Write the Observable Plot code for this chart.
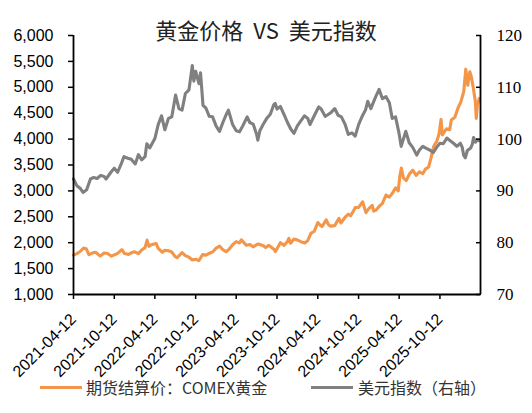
<!DOCTYPE html>
<html><head><meta charset="utf-8">
<script src="https://cdn.jsdelivr.net/npm/d3@7"></script>
<script src="https://cdn.jsdelivr.net/npm/@observablehq/plot@0.6"></script>
<style>
body{margin:0;background:#fff;}
#wrap{position:relative;width:532px;height:413px;overflow:hidden;}
#chart{position:absolute;left:0;top:0;}
#title{position:absolute;left:0;width:532px;top:15px;text-align:center;font-family:"Noto Sans CJK SC";font-size:22px;line-height:28px;color:#222;white-space:pre;word-spacing:5px;}
.lg{position:absolute;top:377px;font-family:"Noto Sans CJK SC";font-size:16px;line-height:20px;color:#333;white-space:nowrap;}
.sw{position:absolute;top:386px;height:3px;width:42px;}
</style></head><body>
<div id="wrap">
<div id="chart"></div>
<div id="title"></div>
<div class="sw" id="sw1" style="left:40px;"></div><div class="lg" id="lg1" style="left:86px;"></div>
<div class="sw" id="sw2" style="left:311px;"></div><div class="lg" id="lg2" style="left:358px;"></div>
</div>
<script>
const titleText = "黄金价格 VS 美元指数";
const seriesNames = ["期货结算价：COMEX黄金", "美元指数（右轴）"];
const seriesColors = ["#F4964A", "#808080"];

const xTickLabels = ["2021-04-12","2021-10-12","2022-04-12","2022-10-12","2023-04-12","2023-10-12","2024-04-12","2024-10-12","2025-04-12","2025-10-12"];
const xDomain = ["2021-04-12","2026-04-12"];
const leftTicks = [1000,1500,2000,2500,3000,3500,4000,4500,5000,5500,6000];
const rightTicks = [70,80,90,100,110,120];

const goldDates = ["2021-04-12","2021-04-27","2021-05-12","2021-05-27","2021-06-08","2021-06-20","2021-07-05","2021-07-20","2021-08-10","2021-08-27","2021-09-12","2021-09-29","2021-10-12","2021-10-27","2021-11-15","2021-11-27","2021-12-15","2021-12-30","2022-01-12","2022-01-28","2022-02-12","2022-02-27","2022-03-08","2022-03-16","2022-03-27","2022-04-18","2022-04-27","2022-05-16","2022-05-27","2022-06-12","2022-06-27","2022-07-12","2022-07-21","2022-08-12","2022-08-27","2022-09-12","2022-09-27","2022-10-12","2022-10-27","2022-11-12","2022-11-27","2022-12-12","2022-12-27","2023-01-12","2023-01-27","2023-02-12","2023-02-27","2023-03-12","2023-03-27","2023-04-12","2023-04-27","2023-05-05","2023-05-27","2023-06-12","2023-06-27","2023-07-12","2023-07-20","2023-08-12","2023-08-22","2023-09-05","2023-09-27","2023-10-05","2023-10-27","2023-11-12","2023-11-27","2023-12-04","2023-12-12","2023-12-27","2024-01-12","2024-01-27","2024-02-14","2024-02-27","2024-03-12","2024-03-27","2024-04-12","2024-04-22","2024-05-01","2024-05-20","2024-05-30","2024-06-07","2024-06-27","2024-07-16","2024-07-25","2024-08-12","2024-08-27","2024-09-06","2024-09-20","2024-09-27","2024-10-12","2024-10-30","2024-11-14","2024-11-25","2024-12-12","2024-12-19","2024-12-30","2025-01-12","2025-01-27","2025-02-12","2025-02-27","2025-03-12","2025-03-27","2025-04-08","2025-04-15","2025-04-22","2025-05-01","2025-05-14","2025-05-27","2025-06-12","2025-06-27","2025-07-12","2025-07-27","2025-08-08","2025-08-22","2025-09-01","2025-09-14","2025-09-27","2025-10-08","2025-10-17","2025-10-23","2025-11-10","2025-11-25","2025-12-02","2025-12-18","2026-01-01","2026-01-14","2026-01-27","2026-02-05","2026-02-14","2026-02-23","2026-03-02","2026-03-11","2026-03-20","2026-03-24","2026-03-29","2026-04-06"];
const goldValues = [1760,1790,1830,1895,1885,1770,1800,1815,1740,1800,1790,1740,1765,1795,1865,1790,1775,1810,1825,1790,1860,1905,2050,1930,1960,1985,1890,1815,1855,1845,1820,1730,1710,1810,1750,1720,1665,1680,1655,1770,1760,1795,1820,1895,1935,1860,1825,1880,1960,2020,1995,2055,1950,1965,1920,1960,1975,1940,1905,1950,1880,1830,2000,1950,2015,2085,1990,2070,2050,2020,1995,2040,2180,2220,2390,2340,2310,2440,2350,2320,2330,2470,2380,2490,2550,2520,2620,2680,2680,2790,2580,2650,2720,2610,2630,2700,2760,2920,2880,2950,3060,3000,3280,3440,3250,3200,3320,3400,3300,3370,3330,3420,3460,3620,3860,3950,4100,4380,4080,4200,4180,4370,4420,4600,4720,4920,5350,5040,5300,5200,4980,4720,4400,4660,4780];

const dxyDates = ["2021-04-12","2021-04-27","2021-05-12","2021-05-25","2021-06-10","2021-06-27","2021-07-12","2021-07-27","2021-08-12","2021-08-27","2021-09-05","2021-09-27","2021-10-12","2021-10-27","2021-11-12","2021-11-24","2021-12-12","2021-12-27","2022-01-14","2022-01-28","2022-02-12","2022-02-27","2022-03-07","2022-03-20","2022-04-12","2022-04-27","2022-05-12","2022-05-27","2022-06-12","2022-06-27","2022-07-14","2022-07-29","2022-08-12","2022-08-27","2022-09-12","2022-09-27","2022-10-04","2022-10-12","2022-10-27","2022-11-03","2022-11-14","2022-11-27","2022-12-12","2022-12-27","2023-01-12","2023-01-27","2023-02-12","2023-02-27","2023-03-08","2023-03-27","2023-04-12","2023-04-27","2023-05-12","2023-05-31","2023-06-12","2023-06-27","2023-07-12","2023-07-18","2023-07-27","2023-08-12","2023-08-27","2023-09-12","2023-09-27","2023-10-04","2023-10-12","2023-10-27","2023-11-12","2023-11-27","2023-12-12","2023-12-27","2024-01-12","2024-01-27","2024-02-12","2024-02-27","2024-03-08","2024-03-27","2024-04-16","2024-04-27","2024-05-15","2024-05-27","2024-06-12","2024-06-27","2024-07-12","2024-07-27","2024-08-12","2024-08-27","2024-09-12","2024-09-27","2024-10-12","2024-10-27","2024-11-12","2024-11-22","2024-12-06","2024-12-27","2025-01-12","2025-01-27","2025-02-12","2025-02-27","2025-03-12","2025-03-27","2025-04-12","2025-04-21","2025-05-12","2025-05-27","2025-06-12","2025-06-30","2025-07-12","2025-07-27","2025-08-12","2025-08-27","2025-09-12","2025-09-27","2025-10-12","2025-10-27","2025-11-12","2025-11-27","2025-12-12","2025-12-27","2026-01-12","2026-01-20","2026-01-27","2026-02-03","2026-02-12","2026-02-27","2026-03-06","2026-03-12","2026-03-20","2026-03-27","2026-04-06"];
const dxyValues = [92.3,91.0,90.5,89.7,90.2,92.3,92.6,92.4,93.0,92.8,92.3,93.6,94.4,93.6,95.2,96.6,96.3,96.1,95.2,97.0,96.0,96.6,99.1,98.3,100.1,102.8,104.5,101.8,104.0,104.3,108.5,105.9,105.6,108.8,109.5,114.2,111.2,113.1,110.7,112.8,106.5,106.0,104.4,104.3,102.5,101.5,103.3,104.8,105.6,102.8,101.6,101.4,102.6,104.3,103.2,102.9,101.0,99.8,101.6,102.9,104.0,104.8,106.6,106.9,105.8,106.3,104.8,103.3,102.0,101.1,102.6,103.5,104.5,104.0,102.8,104.5,106.2,105.8,104.4,104.7,105.2,105.9,104.6,104.3,102.9,100.9,101.2,100.6,102.8,104.3,105.6,107.3,105.9,108.1,109.6,107.8,108.2,107.0,104.0,104.3,101.0,98.6,101.5,99.3,98.4,96.9,97.9,98.6,98.2,97.9,97.4,98.4,99.2,99.1,100.2,99.7,99.2,98.6,99.2,98.4,96.8,96.4,97.8,98.3,99.0,100.3,99.4,99.8,99.7];

const parse = d3.utcParse("%Y-%m-%d");
const gold = goldDates.map((d, i) => ({date: parse(d), value: goldValues[i]}));
const dxy = dxyDates.map((d, i) => ({date: parse(d), value: dxyValues[i]}));
const L0 = leftTicks[0], L1 = leftTicks[leftTicks.length - 1];
const R0 = rightTicks[0], R1 = rightTicks[rightTicks.length - 1];
const toLeft = v => L0 + (v - R0) * (L1 - L0) / (R1 - R0);
const toRight = v => R0 + (v - L0) * (R1 - R0) / (L1 - L0);
const xd = xDomain.map(parse);

const chart = Plot.plot({
  width: 532, height: 380,
  marginLeft: 73, marginRight: 52, marginTop: 35, marginBottom: 86,
  style: {fontFamily: "'Liberation Sans', Arial, sans-serif", fontSize: "15px", color: "#000", background: "#fff", overflow: "visible"},
  x: {type: "utc", domain: xd},
  y: {domain: [L0, L1]},
  marks: [
    Plot.line(gold, {x: "date", y: "value", stroke: seriesColors[0], strokeWidth: 3.1, strokeLinejoin: "round"}),
    Plot.line(dxy, {x: "date", y: d => toLeft(d.value), stroke: seriesColors[1], strokeWidth: 3.1, strokeLinejoin: "round"}),
    Plot.axisY({ticks: leftTicks, tickFormat: d3.format(","), tickSize: 5, tickPadding: 15, label: null, fontSize: 16, strokeWidth: 1.5}),
    Plot.axisY({anchor: "right", ticks: rightTicks.map(toLeft), tickFormat: d => String(Math.round(toRight(d))), tickSize: -5, tickPadding: 21, label: null, fontSize: 17, fontFamily: "'Liberation Serif', 'Times New Roman', serif", strokeWidth: 1.5}),
    Plot.axisX({ticks: xTickLabels.map(parse), tickFormat: d3.utcFormat("%Y-%m-%d"), tickRotate: -45, tickSize: 5, tickPadding: 17, label: null, fontSize: 16, strokeWidth: 1.5}),
    Plot.ruleX([xd[0]], {stroke: "#000", strokeWidth: 1.8}),
    Plot.ruleX([xd[1]], {stroke: "#000", strokeWidth: 1.8}),
    Plot.ruleY([L0], {stroke: "#000", strokeWidth: 1.8})
  ]
});
document.getElementById("chart").appendChild(chart);
document.getElementById("title").textContent = titleText;
document.getElementById("lg1").textContent = seriesNames[0];
document.getElementById("lg2").textContent = seriesNames[1];
document.getElementById("sw1").style.background = seriesColors[0];
document.getElementById("sw2").style.background = seriesColors[1];
</script>
</body></html>
